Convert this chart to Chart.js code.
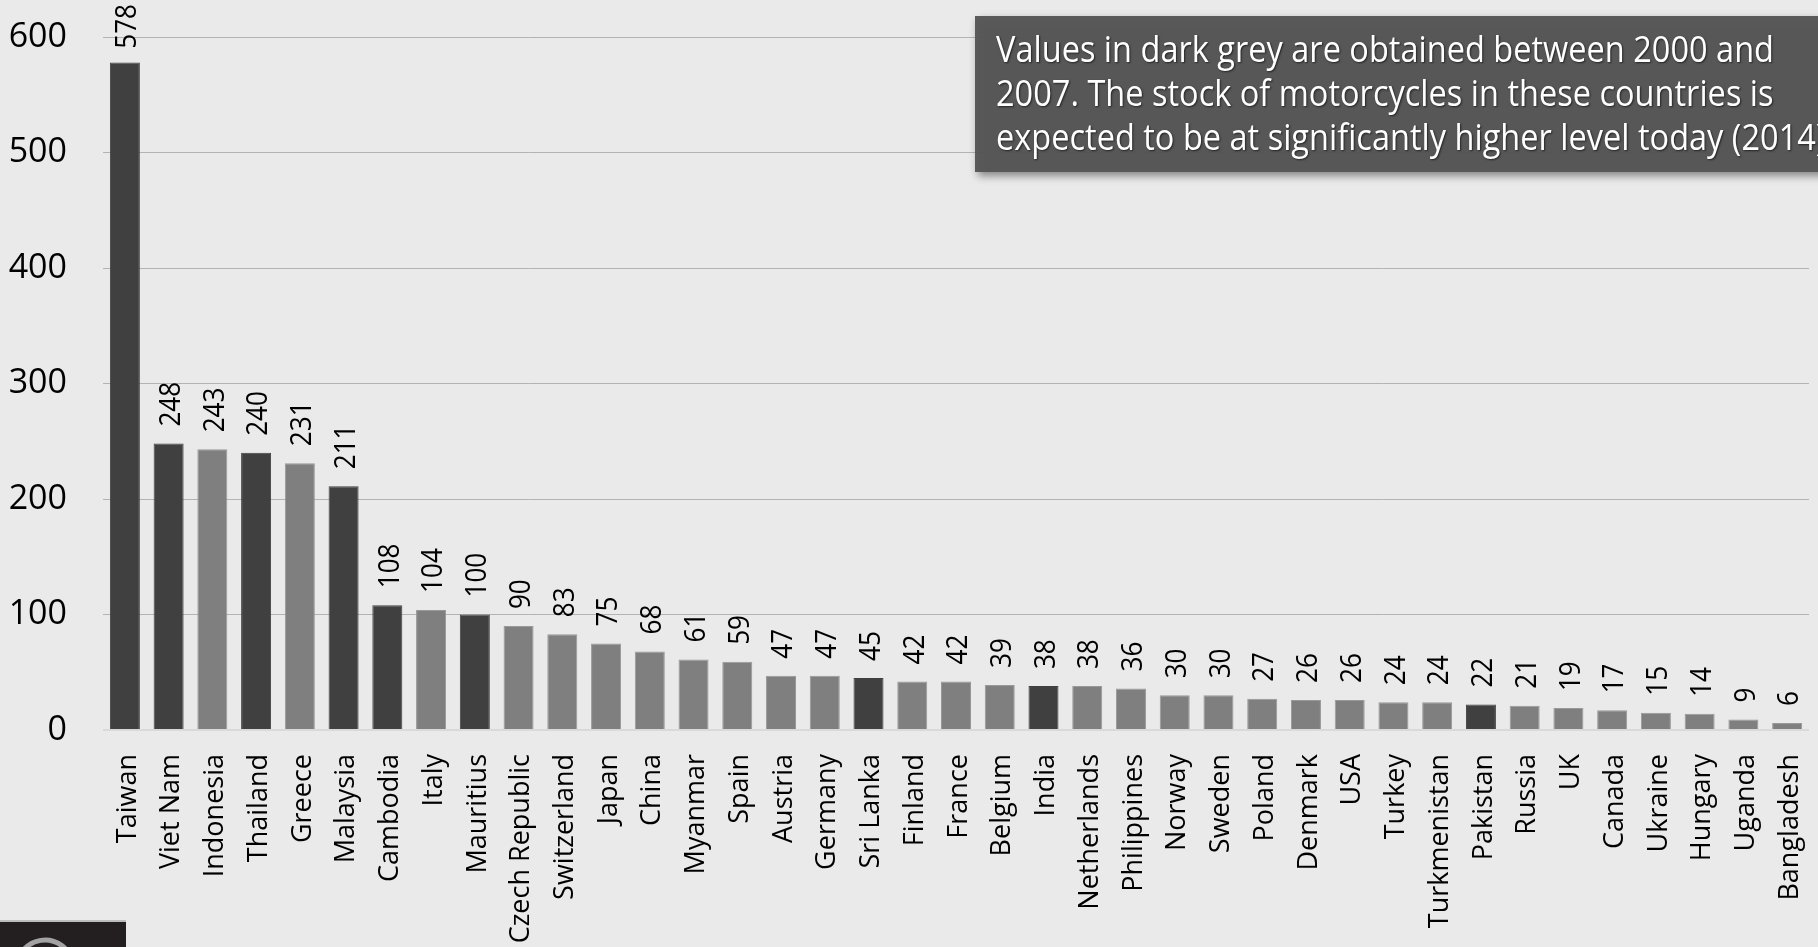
<!DOCTYPE html>
<html>
<head>
<meta charset="utf-8">
<script src="https://cdn.jsdelivr.net/npm/chart.js@4/dist/chart.umd.min.js"></script>
<style>
  html, body { margin: 0; padding: 0; background: #eaeaea; overflow: hidden; }
  #myChart { display: block; }
</style>
</head>
<body>
<canvas id="myChart" width="1818" height="947"></canvas>
<script>
// motorcycles per 1000 inhabitants
const countries = ['Taiwan', 'Viet Nam', 'Indonesia', 'Thailand', 'Greece', 'Malaysia', 'Cambodia', 'Italy',
  'Mauritius', 'Czech Republic', 'Switzerland', 'Japan', 'China', 'Myanmar', 'Spain', 'Austria', 'Germany',
  'Sri Lanka', 'Finland', 'France', 'Belgium', 'India', 'Netherlands', 'Philippines', 'Norway', 'Sweden',
  'Poland', 'Denmark', 'USA', 'Turkey', 'Turkmenistan', 'Pakistan', 'Russia', 'UK', 'Canada', 'Ukraine',
  'Hungary', 'Uganda', 'Bangladesh']
const motorcycles = [578, 248, 243, 240, 231, 211, 108, 104, 100, 90, 83, 75, 68, 61, 59, 47, 47,
  45, 42, 42, 39, 38, 38, 36, 30, 30, 27, 26, 26, 24, 24, 22, 21, 19, 17, 15, 14, 9, 6]
// true = value obtained between 2000 and 2007 (dark grey)
const olderData = countries.map(c =>
  ['Taiwan', 'Viet Nam', 'Thailand', 'Malaysia', 'Cambodia', 'Mauritius', 'Sri Lanka', 'India', 'Pakistan'].includes(c))
const yTicks = [0, 100, 200, 300, 400, 500, 600]

const noteLines = [
  'Values in dark grey are obtained between 2000 and',
  '2007. The stock of motorcycles in these countries is',
  'expected to be at significantly higher level today (2014)',
]

const bgPlugin = {
  id: 'bg',
  beforeDraw(chart) {
    const ctx = chart.ctx
    ctx.save()
    ctx.fillStyle = '#eaeaea'
    ctx.fillRect(0, 0, chart.width, chart.height)
    ctx.restore()
  },
}

// value labels, rotated, above each bar
const valueLabels = {
  id: 'valueLabels',
  afterDatasetsDraw(chart) {
    const ctx = chart.ctx
    const meta = chart.getDatasetMeta(0)
    const squeeze = 0.9
    ctx.save()
    ctx.font = '29px "Open Sans"'
    ctx.fillStyle = '#000'
    ctx.textAlign = 'left'
    ctx.textBaseline = 'middle'
    meta.data.forEach((bar, i) => {
      const txt = String(motorcycles[i])
      const w = ctx.measureText(txt).width * squeeze
      let start = bar.y - 17
      if (start - w < 4) start = w + 4
      ctx.save()
      ctx.translate(bar.x + 3, start)
      ctx.rotate(-Math.PI / 2)
      ctx.scale(squeeze, 1)
      ctx.fillText(txt, 0, 0)
      ctx.restore()
    })
    ctx.restore()
  },
}

// note box top right + logo corner
const notePlugin = {
  id: 'note',
  afterDraw(chart) {
    const ctx = chart.ctx
    ctx.save()
    ctx.shadowColor = 'rgba(0,0,0,0.45)'
    ctx.shadowBlur = 8
    ctx.shadowOffsetX = 3
    ctx.shadowOffsetY = 4
    ctx.fillStyle = 'rgba(85,85,85,0.96)'
    ctx.fillRect(975, 16, 900, 156)
    ctx.restore()

    ctx.save()
    ctx.font = '36px "Open Sans"'
    const w0 = ctx.measureText(noteLines[0]).width
    const sx = 778 / w0
    ctx.fillStyle = '#fff'
    ctx.shadowColor = 'rgba(0,0,0,0.6)'
    ctx.shadowBlur = 2
    ctx.shadowOffsetX = 1
    ctx.shadowOffsetY = 1
    ctx.textBaseline = 'alphabetic'
    noteLines.forEach((line, i) => {
      ctx.save()
      ctx.translate(996, 62 + i * 44)
      ctx.scale(sx, 1)
      ctx.fillText(line, 0, 0)
      ctx.restore()
    })
    ctx.restore()

    // cut-off logo, bottom left
    ctx.save()
    ctx.fillStyle = '#231f20'
    ctx.fillRect(0, 921, 126, 30)
    ctx.fillStyle = '#bdbdbd'
    ctx.fillRect(0, 920, 126, 2)
    ctx.strokeStyle = 'rgba(220,220,220,0.7)'
    ctx.lineWidth = 5
    ctx.beginPath()
    ctx.arc(45, 968, 28, Math.PI * 1.2, Math.PI * 1.8)
    ctx.stroke()
    ctx.restore()
  },
}

const ctx = document.getElementById('myChart').getContext('2d')

const chart = new Chart(ctx, {
  type: 'bar',
  data: {
    labels: countries,
    datasets: [
      {
        data: motorcycles,
        backgroundColor: olderData.map(d => (d ? '#404040' : '#7f7f7f')),
        borderColor: olderData.map(d => (d ? '#404040' : '#999999')),
        borderWidth: 1,
        barPercentage: 0.686,
        categoryPercentage: 1,
      },
    ],
  },
  options: {
    responsive: false,
    animation: false,
    layout: {
      padding: { top: 37, right: 9, left: 0, bottom: 0 },
    },
    plugins: {
      legend: { display: false },
      tooltip: { enabled: false },
    },
    scales: {
      x: {
        grid: { display: false },
        border: { display: false },
        ticks: {
          autoSkip: false,
          maxRotation: 90,
          minRotation: 90,
          padding: 16,
          labelOffset: 3,
          color: '#000',
          font: { family: 'Open Sans', size: 27 },
        },
        afterFit(scale) {
          scale.height = 217
          scale.paddingLeft = 0
          scale.paddingRight = 0
        },
      },
      y: {
        min: 0,
        max: 600,
        afterBuildTicks(scale) {
          scale.ticks = yTicks.map(v => ({ value: v }))
        },
        grid: {
          drawTicks: false,
          color: c => (c.tick.value === 0 ? '#d9d9d9' : '#b3b3b3'),
          lineWidth: c => (c.tick.value === 0 ? 2 : 1),
        },
        border: { display: false },
        ticks: {
          padding: 36,
          color: '#000',
          font: { family: 'Open Sans', size: 34 },
        },
        afterFit(scale) {
          scale.width = 103
          scale.paddingTop = 0
          scale.paddingBottom = 0
        },
      },
    },
  },
  plugins: [bgPlugin, valueLabels, notePlugin],
})
</script>
</body>
</html>
